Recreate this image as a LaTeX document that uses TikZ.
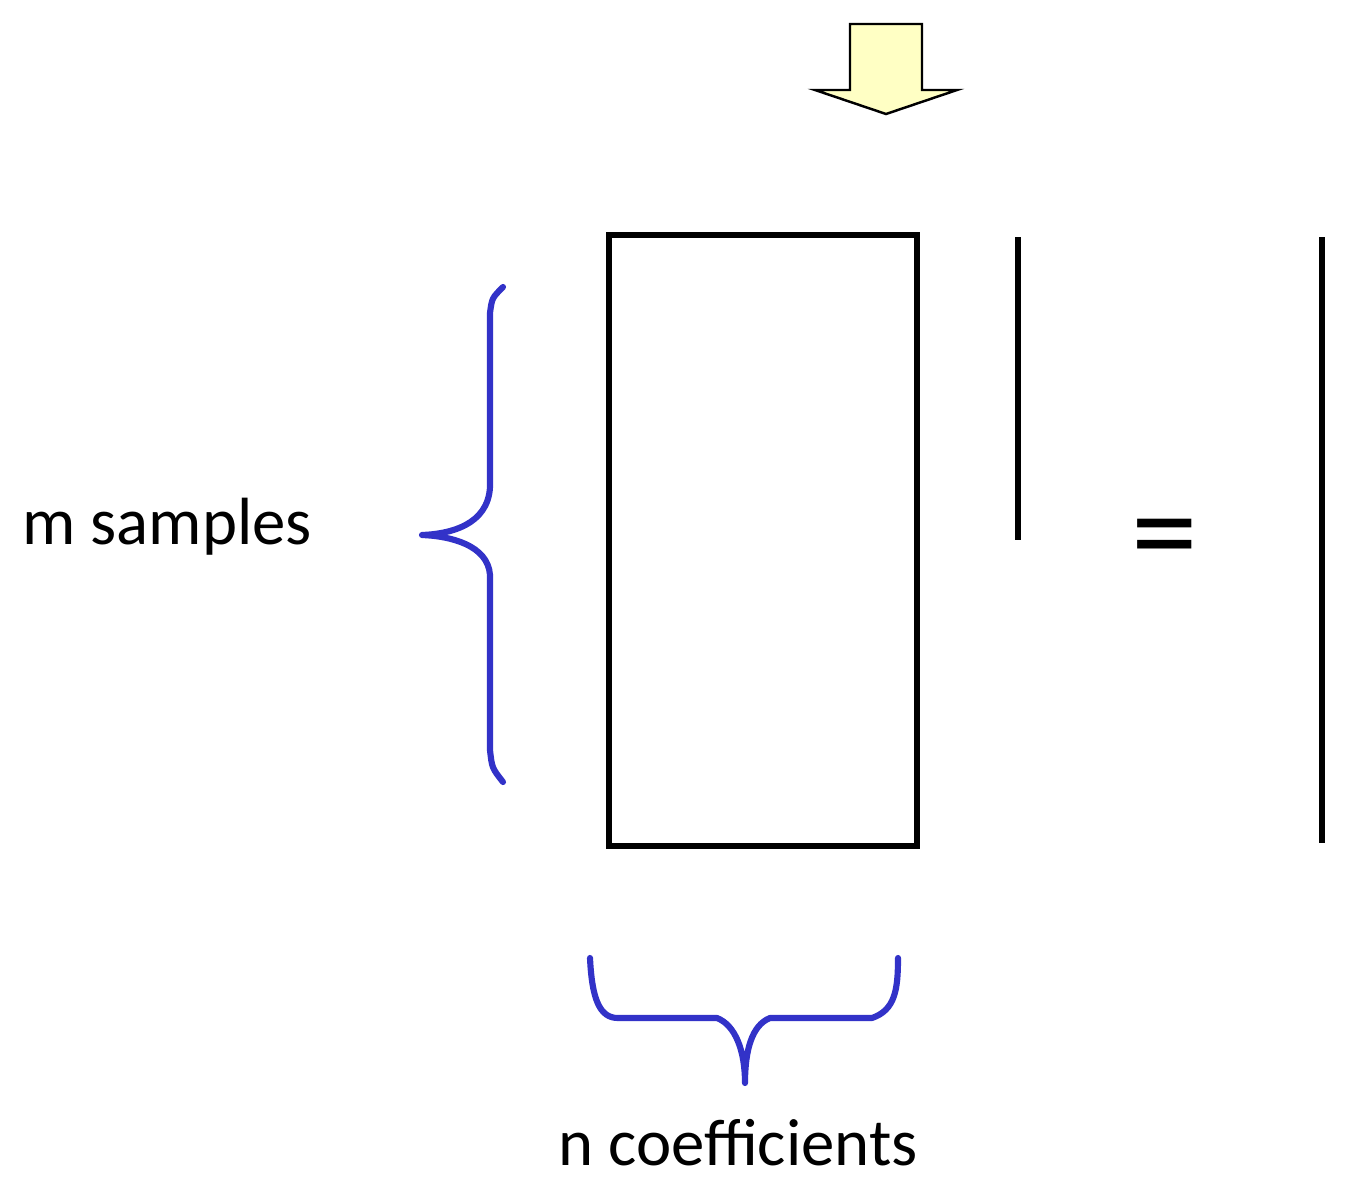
\documentclass[tikz,border=0pt]{standalone}
\usepackage{fontspec}
\setmainfont{Carlito}
\usetikzlibrary{positioning}
\definecolor{braceblue}{RGB}{50,50,200}
\definecolor{arrowyellow}{RGB}{255,255,196}

\begin{document}
\begin{tikzpicture}[x=0.02cm,y=-0.02cm,every node/.style={font=\fontsize{38}{46}\selectfont},bar/.style={line width=3pt},brc/.style={draw=braceblue,line width=3.5pt,line join=round,line cap=round}]
\useasboundingbox (0,0) rectangle (1355,1190);
% down arrow
\draw[line width=1.4pt,fill=arrowyellow] (850,24) -- (922,24) -- (922,90) -- (957,90) -- (886,114) -- (815,90) -- (850,90) -- cycle;
% matrix and vectors
\node[draw,bar,minimum width=6.16cm,minimum height=12.22cm,inner sep=0pt] (mat) at (763,540.5) {};
\draw[bar] (1018,237) -- (1018,540);
\node[font=\fontsize{76}{86}\selectfont] (eq) at (1165,548) {=};
\draw[bar] (1322,237) -- (1322,843);
% braces
\draw[brc] (503,287) .. controls (492,298) .. (490,313) -- (490,487) .. controls (488,525) and (450,534) .. (422,535) .. controls (450,536) and (488,545) .. (490,575) -- (490,750) .. controls (492,768) .. (503,782);
\draw[brc] (590,958) .. controls (592,1000) and (600,1018) .. (618,1018) -- (717,1018) .. controls (735,1025) and (745,1050) .. (745,1083) .. controls (745,1050) and (752,1025) .. (770,1018) -- (872,1018) .. controls (895,1010) and (898,990) .. (898,958);
\node (msamp) at (167,527) {m samples};
\node (ncoef) at (738,1143) {n coefficients};
\end{tikzpicture}
\end{document}
